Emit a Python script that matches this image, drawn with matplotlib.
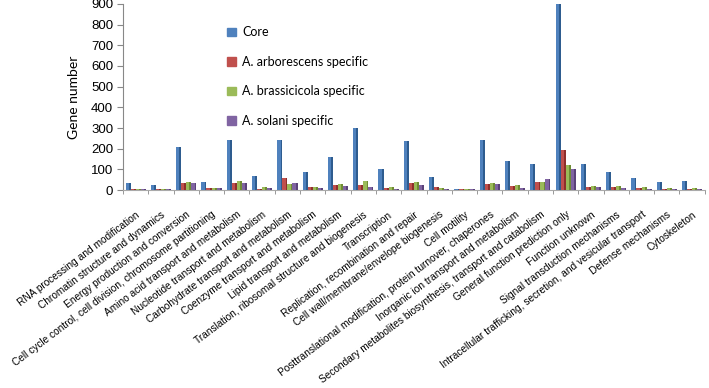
import matplotlib
matplotlib.use("Agg")
import matplotlib.pyplot as plt
import numpy as np

categories = [
    "RNA processing and modification",
    "Chromatin structure and dynamics",
    "Energy production and conversion",
    "Cell cycle control, cell division, chromosome partitioning",
    "Amino acid transport and metabolism",
    "Nucleotide transport and metabolism",
    "Carbohydrate transport and metabolism",
    "Coenzyme transport and metabolism",
    "Lipid transport and metabolism",
    "Translation, ribosomal structure and biogenesis",
    "Transcription",
    "Replication, recombination and repair",
    "Cell wall/membrane/envelope biogenesis",
    "Cell motility",
    "Posttranslational modification, protein turnover, chaperones",
    "Inorganic ion transport and metabolism",
    "Secondary metabolites biosynthesis, transport and catabolism",
    "General function prediction only",
    "Function unknown",
    "Signal transduction mechanisms",
    "Intracellular trafficking, secretion, and vesicular transport",
    "Defense mechanisms",
    "Cytoskeleton",
]

core = [32, 24, 210, 38, 242, 68, 242, 89, 160, 300, 100, 238, 62, 5,
        242, 142, 128, 900, 128, 86, 60, 39, 44]
arborescens = [6, 5, 36, 8, 32, 7, 57, 13, 25, 24, 8, 35, 13, 4,
               29, 19, 40, 192, 13, 15, 11, 6, 3]
brassicicola = [7, 6, 38, 10, 45, 17, 30, 17, 28, 42, 16, 39, 8, 4,
                36, 23, 40, 123, 21, 18, 15, 11, 11]
solani = [6, 5, 36, 8, 32, 8, 34, 10, 22, 16, 6, 23, 6, 4,
          29, 11, 53, 102, 13, 11, 6, 6, 5]

series = [
    ("Core", core, "#4F81BD", "#2E5C8F"),
    ("A. arborescens specific", arborescens, "#C0504D", "#8E2F2C"),
    ("A. brassicicola specific", brassicicola, "#9BBB59", "#6E8B34"),
    ("A. solani specific", solani, "#8064A2", "#5A4279"),
]

fig = plt.figure(figsize=(7.09, 3.88), dpi=100)
ax = fig.add_axes([0.1735, 0.51, 0.8205, 0.48])

x = np.arange(len(categories))
w = 0.2
offsets = [-1.5 * w, -0.5 * w, 0.5 * w, 1.5 * w]
for (name, vals, face, side), off in zip(series, offsets):
    ax.bar(x + off, vals, width=w, color=face, label=name, zorder=2)
    # darker right side for the pseudo-3D look
    ax.bar(x + off + w * 0.32, vals, width=w * 0.36, color=side, zorder=3)

ax.set_xlim(-0.5, len(categories) - 0.5)
ax.set_ylim(0, 900)
ax.set_yticks(np.arange(0, 901, 100))
ax.tick_params(axis="y", labelsize=9.5, color="#888888", length=4, pad=3)
for lab in ax.get_yticklabels():
    lab.set_family("Liberation Sans")

ax.set_xticks(x)
ax.set_xticklabels(categories, rotation=37, ha="right", rotation_mode="anchor",
                   fontsize=7.3, family="Liberation Sans")
ax.tick_params(axis="x", length=0, pad=14)
ax.set_xticks(np.arange(-0.5, len(categories), 1), minor=True)
ax.tick_params(axis="x", which="minor", length=3, color="#888888")

for s in ["top", "right"]:
    ax.spines[s].set_visible(False)
ax.spines["left"].set_color("#888888")
ax.spines["bottom"].set_color("#AAAAAA")

ax.set_ylabel("Gene number", fontsize=10, family="Lato", labelpad=8)

handles = [plt.Rectangle((0, 0), 1, 1, color=c) for _, _, c, _ in series]
ax.legend(handles, [s[0] for s in series], loc="upper left",
          bbox_to_anchor=(0.16, 0.94), frameon=False, handlelength=0.7,
          handleheight=0.7, labelspacing=1.4, handletextpad=0.5,
          prop={"family": "Lato", "size": 9})

fig.savefig("out.png", dpi=100)
